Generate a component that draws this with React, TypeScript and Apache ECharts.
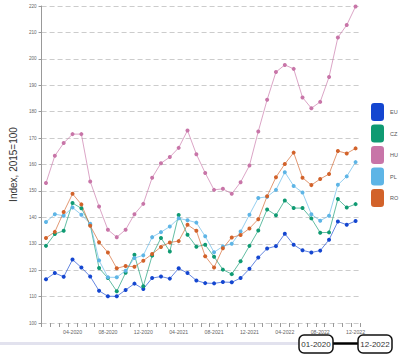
import React, { useEffect, useRef } from "react";
import * as echarts from "echarts";

const months: string[] = [];
for (const y of [2020, 2021, 2022]) {
  for (let m = 1; m <= 12; m++) months.push(String(m).padStart(2, "0") + "-" + y);
}

const EU = [116.6,118.9,117.5,124.0,121.0,117.6,112.2,110.1,110.1,112.5,114.9,112.9,117.0,117.6,116.8,120.7,118.9,116.1,115.1,115.0,115.5,115.4,117.0,120.5,124.8,128.2,129.1,133.8,129.6,127.5,126.7,127.4,131.5,138.4,137.2,138.6];
const CZ = [129.2,133.7,134.9,145.4,143.4,137.2,120.8,117.0,112.0,119.0,125.8,113.9,125.5,132.2,127.1,140.9,133.4,128.9,129.6,125.1,120.2,118.5,123.4,129.2,135.0,143.0,140.8,146.4,143.5,143.5,139.6,134.2,134.3,146.9,143.7,145.0];
const HU = [153.0,163.3,168.1,171.5,171.5,153.6,144.1,135.3,132.5,135.3,141.2,145.1,155.0,160.5,162.8,166.3,172.9,163.9,156.8,150.4,150.8,148.9,153.3,159.6,172.5,184.5,195.0,197.7,196.2,185.4,181.3,183.7,193.1,208.1,212.8,219.8];
const PL = [138.2,141.2,140.6,143.7,141.0,137.6,123.7,117.3,117.3,119.8,124.6,125.6,132.5,134.4,136.5,139.6,138.9,138.0,132.8,126.8,129.0,130.0,134.6,141.0,147.3,147.8,150.4,157.1,151.9,149.4,141.2,138.7,140.6,152.3,155.5,160.9];
const RO = [132.2,134.5,142.0,148.9,144.9,136.8,130.6,126.7,120.7,121.6,121.3,123.6,126.1,128.8,130.5,131.0,137.2,134.9,125.3,121.0,128.3,132.4,133.3,135.8,139.3,148.0,155.2,160.2,164.5,155.0,152.2,154.5,156.4,165.1,164.2,166.1];

const seriesNames = ["EU", "CZ", "HU", "PL", "RO"];
const seriesData = [EU, CZ, HU, PL, RO];
const colors = ["#1446d0", "#0f9a72", "#c875a8", "#5eb5e6", "#d2622a"];

export default function App() {
  const ref = useRef<HTMLDivElement>(null);
  useEffect(() => {
    const chart = echarts.init(ref.current!, null, { renderer: "svg" });
    chart.setOption({
      animation: false,
      color: colors,
      grid: { left: 32, right: 40, top: 6, bottom: 31, containLabel: false },
      legend: {
        orient: "vertical",
        left: 371,
        top: 103,
        padding: 0,
        itemWidth: 13,
        itemHeight: 18,
        itemGap: 3.5,
        icon: "roundRect",
        textStyle: { fontSize: 5.5, color: "#555", fontFamily: "Liberation Sans", padding: [0, 0, 0, 1] },
        data: seriesNames,
      },
      xAxis: {
        type: "category",
        data: months,
        boundaryGap: true,
        axisLine: { show: false },
        axisTick: { show: true, interval: 0, length: 4, lineStyle: { color: "#999" } },
        axisLabel: {
          interval: (i: number) => i % 4 === 3,
          fontSize: 5.2,
          color: "#666",
          margin: 6,
          fontFamily: "Liberation Sans",
        },
      },
      yAxis: {
        type: "value",
        min: 100,
        max: 220,
        interval: 10,
        name: "Index, 2015=100",
        nameLocation: "middle",
        nameGap: 22,
        nameTextStyle: { fontSize: 10, color: "#333", fontFamily: "Liberation Sans" },
        axisLine: { show: true, lineStyle: { color: "#999" } },
        axisTick: { show: true, length: 3, lineStyle: { color: "#999" } },
        axisLabel: { fontSize: 4.6, color: "#666", margin: 5, fontFamily: "Liberation Sans" },
        splitLine: { lineStyle: { color: "#ccc", type: [5, 3], width: 1 } },
      },
      series: seriesNames.map((n, i) => ({
        name: n,
        type: "line",
        data: seriesData[i],
        symbol: "circle",
        symbolSize: 4,
        showSymbol: true,
        lineStyle: { width: 1, opacity: 0.65 },
        itemStyle: { color: colors[i] },
      })),
      graphic: [
        { type: "rect", shape: { x: 0, y: 342, width: 300, height: 3 }, style: { fill: "#e2e2ee" } },
        { type: "line", shape: { x1: 333, y1: 343.5, x2: 358, y2: 343.5 }, style: { stroke: "#000", lineWidth: 2.5 } },
        { type: "rect", shape: { x: 299, y: 335, width: 34, height: 18, r: 5 }, style: { fill: "#fff", stroke: "#111", lineWidth: 1.5 } },
        { type: "rect", shape: { x: 358, y: 335, width: 34, height: 18, r: 5 }, style: { fill: "#fff", stroke: "#111", lineWidth: 1.5 } },
        { type: "text", x: 316, y: 344, style: { text: months[0], fontSize: 8, fill: "#333", align: "center", verticalAlign: "middle", fontFamily: "Liberation Sans" } },
        { type: "text", x: 375, y: 344, style: { text: months[months.length - 1], fontSize: 8, fill: "#333", align: "center", verticalAlign: "middle", fontFamily: "Liberation Sans" } },
      ],
    });
    return () => chart.dispose();
  }, []);
  return <div ref={ref} style={{ position: "fixed", left: 0, top: 0, width: 400, height: 354, background: "#fff" }} />;
}
